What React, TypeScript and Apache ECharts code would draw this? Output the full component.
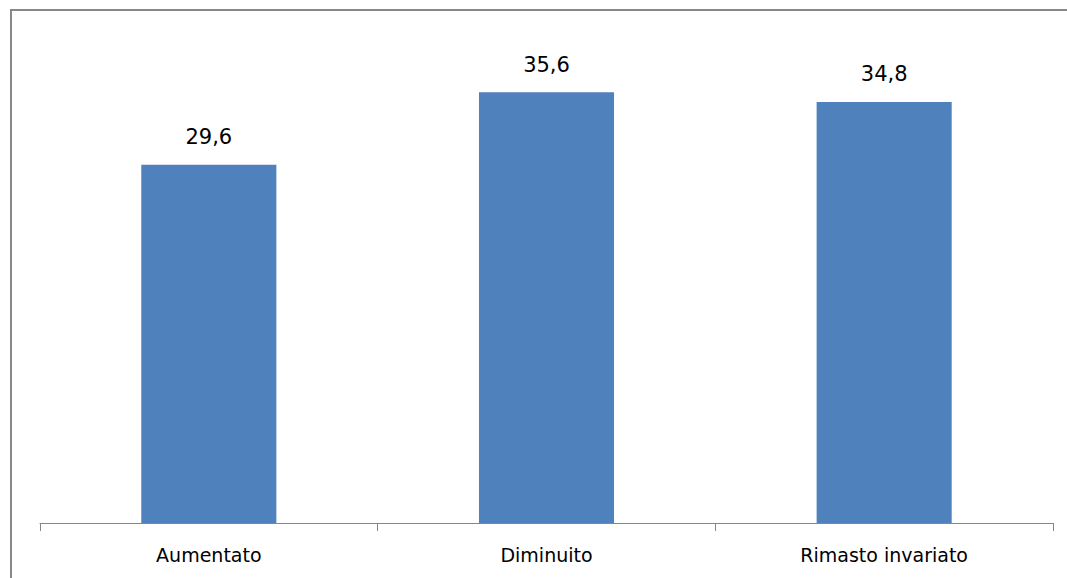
import React, { useEffect, useRef } from "react";
import * as echarts from "echarts";

const categories = ["Aumentato", "Diminuito", "Rimasto invariato"];
const values = [29.6, 35.6, 34.8];

export default function App() {
  const ref = useRef<HTMLDivElement>(null);
  useEffect(() => {
    const chart = echarts.init(ref.current!, null, { renderer: "svg" });
    chart.setOption({
      animation: false,
      grid: { left: 40, right: 14, top: 39, bottom: 55 },
      graphic: [
        {
          type: "rect",
          shape: { x: 11, y: 10, width: 1200, height: 700 },
          style: { fill: "none", stroke: "#888888", lineWidth: 2 },
          silent: true,
        },
      ],
      xAxis: {
        type: "category",
        data: categories,
        axisLine: { lineStyle: { color: "#868686", width: 1 } },
        axisTick: { show: true, length: 8, lineStyle: { color: "#868686" } },
        axisLabel: {
          color: "#000",
          fontFamily: "DejaVu Sans",
          fontSize: 19,
          margin: 22,
        },
      },
      yAxis: {
        type: "value",
        min: 0,
        max: 40,
        show: false,
        splitLine: { show: false },
      },
      series: [
        {
          type: "bar",
          data: values,
          barWidth: "40%",
          itemStyle: { color: "#4F81BD" },
          label: {
            show: true,
            position: "top",
            distance: 17,
            color: "#000",
            fontFamily: "DejaVu Sans",
            fontSize: 21,
            formatter: (p: any) => p.value.toFixed(1).replace(".", ","),
          },
        },
      ],
    });
    return () => chart.dispose();
  }, []);
  return (
    <div
      ref={ref}
      style={{ position: "absolute", left: 0, top: 0, width: 1067, height: 578 }}
    />
  );
}
